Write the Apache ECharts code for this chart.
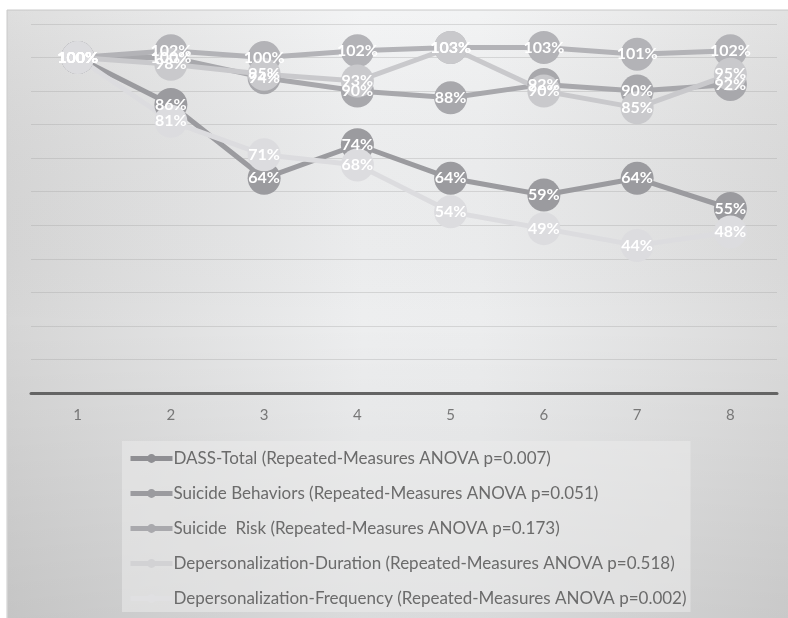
<!DOCTYPE html>
<html>
<head>
<meta charset="utf-8">
<script src="https://cdn.jsdelivr.net/npm/echarts@6/dist/echarts.min.js"></script>
<style>
  html, body { margin: 0; padding: 0; background: #ffffff; }
  #chart { width: 788px; height: 618px; }
</style>
</head>
<body>
<div id="chart"></div>
<script>
// Measurement points along the x axis
const timepoints = ['1', '2', '3', '4', '5', '6', '7', '8'];

// Scores relative to baseline (1.00 = 100%)
const dassTotal        = [1.00, 0.86, 0.64, 0.74, 0.64, 0.59, 0.64, 0.55];
const suicideBehaviors = [1.00, 1.00, 0.94, 0.90, 0.88, 0.92, 0.90, 0.92];
const suicideRisk      = [1.00, 1.02, 1.00, 1.02, 1.03, 1.03, 1.01, 1.02];
const deperDuration    = [1.00, 0.98, 0.95, 0.93, 1.03, 0.90, 0.85, 0.95];
const deperFrequency   = [1.00, 0.81, 0.71, 0.68, 0.54, 0.49, 0.44, 0.48];

const seriesNames = [
  'DASS-Total (Repeated-Measures ANOVA p=0.007)',
  'Suicide Behaviors (Repeated-Measures ANOVA p=0.051)',
  'Suicide  Risk (Repeated-Measures ANOVA p=0.173)',
  'Depersonalization-Duration (Repeated-Measures ANOVA p=0.518)',
  'Depersonalization-Frequency (Repeated-Measures ANOVA p=0.002)'
];
const seriesValues = [dassTotal, suicideBehaviors, suicideRisk, deperDuration, deperFrequency];
const seriesColors = ['#9b9b9f', '#a8a8ac', '#b3b3b7', '#c9c9cc', '#dcdcdf'];
const legendColors = ['#8f8f93', '#9b9b9f', '#a9a9ad', '#d2d2d4', '#e0e0e2'];

const FONT = 'Lato, "Open Sans", sans-serif';

const chart = echarts.init(document.getElementById('chart'), null, { renderer: 'canvas' });

const series = seriesValues.map((vals, i) => ({
  name: seriesNames[i],
  type: 'line',
  data: vals,
  symbol: 'circle',
  symbolSize: 33,
  lineStyle: { color: seriesColors[i], width: 5 },
  itemStyle: { color: seriesColors[i] },
  label: {
    show: true,
    position: 'inside',
    color: '#ffffff',
    fontFamily: FONT,
    fontSize: 16,
    fontWeight: 'bold',
    formatter: p => Math.round(p.value * 100) + '%'
  },
  labelLayout: { hideOverlap: false },
  emphasis: { disabled: true },
  animation: false
}));

chart.setOption({
  animation: false,
  graphic: [
    {
      type: 'rect',
      z: -10,
      silent: true,
      shape: { x: 7, y: 10, width: 790, height: 620 },
      style: {
        stroke: '#cacaca',
        lineWidth: 1,
        fill: {
          type: 'linear', x: 0, y: 0, x2: 1, y2: 0,
          colorStops: [
            { offset: 0, color: '#dadada' },
            { offset: 0.45, color: '#f2f3f4' },
            { offset: 0.6, color: '#f1f2f3' },
            { offset: 1, color: '#dedede' }
          ]
        }
      }
    },
    {
      type: 'rect',
      z: -9,
      silent: true,
      shape: { x: 8, y: 11, width: 790, height: 620 },
      style: {
        fill: {
          type: 'linear', x: 0, y: 0, x2: 0, y2: 1,
          colorStops: [
            { offset: 0, color: 'rgba(255,255,255,0.1)' },
            { offset: 0.5, color: 'rgba(0,0,0,0.02)' },
            { offset: 1, color: 'rgba(0,0,0,0.1)' }
          ]
        }
      }
    }
  ],
  grid: { left: 31, right: 11, top: 24, bottom: 225, containLabel: false },
  xAxis: {
    type: 'category',
    data: timepoints,
    boundaryGap: true,
    axisLine: { lineStyle: { color: '#646464', width: 3 } },
    axisTick: { show: false },
    axisLabel: { color: '#777777', fontSize: 15, fontFamily: FONT, margin: 15 }
  },
  yAxis: {
    type: 'value',
    min: 0,
    max: 1.1,
    interval: 0.1,
    axisLine: { show: false },
    axisTick: { show: false },
    axisLabel: { show: false },
    splitLine: { lineStyle: { color: 'rgba(160,160,160,0.32)', width: 1 } }
  },
  legend: {
    orient: 'vertical',
    left: 122,
    top: 441,
    height: 172,
    padding: [9, 4, 5, 6],
    backgroundColor: 'rgba(235,235,235,0.55)',
    itemGap: 18,
    itemWidth: 42,
    itemHeight: 11,
    selectedMode: false,
    textStyle: { color: '#6b6b6b', fontSize: 17, fontFamily: FONT, padding: [0, 0, 0, -4] },
    data: seriesNames.map((n, i) => ({
      name: n,
      itemStyle: { color: legendColors[i] },
      lineStyle: { color: legendColors[i], width: 5 }
    }))
  },
  series: series
});
</script>
</body>
</html>
